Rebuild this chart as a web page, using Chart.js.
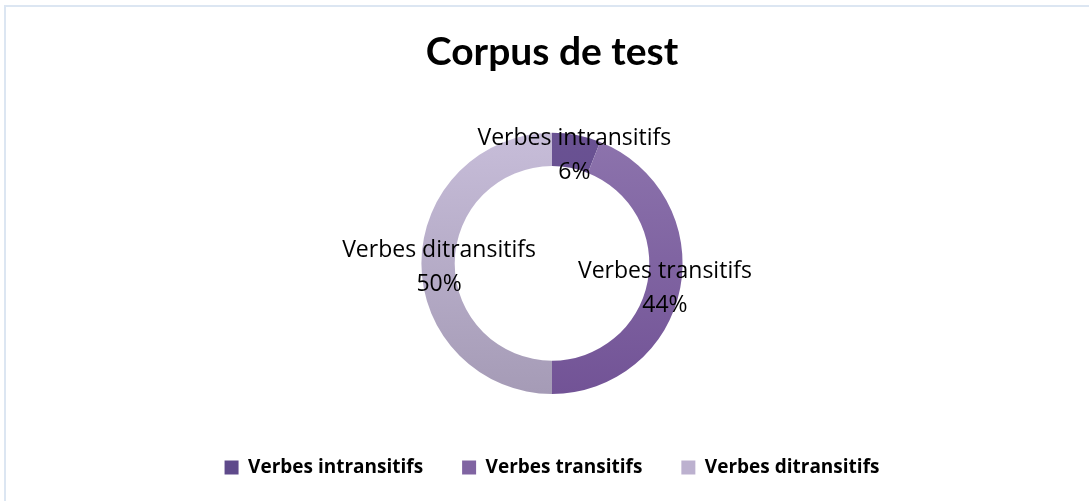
<!DOCTYPE html>
<html><head><meta charset="utf-8">
<script src="https://cdn.jsdelivr.net/npm/chart.js@4/dist/chart.umd.min.js"></script>
<style>
html,body{margin:0;padding:0;background:#fff;}
#wrap{position:absolute;left:0;top:0;width:1089px;height:501px;overflow:hidden;}
#frame{position:absolute;left:4px;top:5px;width:1100px;height:520px;border-top:2px solid #dce6f2;border-left:2px solid #dce6f2;}
canvas{position:absolute;left:0;top:0;}
</style></head><body>
<div id="wrap"><div id="frame"></div><canvas id="c" width="1089" height="501"></canvas></div>
<script>
const titleText = "Corpus de test";
const categories = ["Verbes intransitifs", "Verbes transitifs", "Verbes ditransitifs"];
const values = [6, 44, 50];
const pctLabels = ["6%", "44%", "50%"];
const flatColors = ["#5f4a8b", "#8064a2", "#bcb1cf"];
const gradTop = ["#6a5293", "#8d74ad", "#c7bdd9"];
const gradBottom = ["#5c4786", "#725396", "#a59bb6"];

function grad(ctx){
  const chart = ctx.chart; const a = chart.chartArea;
  if(!a) return flatColors[ctx.dataIndex];
  const g = chart.ctx.createLinearGradient(0, a.top, 0, a.bottom);
  g.addColorStop(0, gradTop[ctx.dataIndex]);
  g.addColorStop(1, gradBottom[ctx.dataIndex]);
  return g;
}

const labelPlugin = {
  id: 'arcLabels',
  afterDatasetsDraw(chart){
    const ctx = chart.ctx;
    const meta = chart.getDatasetMeta(0);
    ctx.save();
    ctx.font = '23px "Open Sans"';
    ctx.fillStyle = '#000';
    ctx.textAlign = 'center';
    ctx.textBaseline = 'middle';
    meta.data.forEach((arc, i) => {
      const p = arc.tooltipPosition();
      ctx.fillText(categories[i], p.x + 1, p.y - 13);
      ctx.fillText(pctLabels[i], p.x + 1, p.y + 21);
    });
    ctx.restore();
  }
};

new Chart(document.getElementById('c'), {
  type: 'doughnut',
  data: {
    labels: categories,
    datasets: [{ data: values, backgroundColor: grad, borderWidth: 0, hoverOffset: 0 }]
  },
  options: {
    responsive: false,
    animation: false,
    cutout: '74.5%',
    layout: { padding: { left: 15, right: 0, top: 0, bottom: 14 } },
    plugins: {
      tooltip: { enabled: false },
      title: { display: true, text: titleText, color: '#000',
        font: { family: 'Lato', size: 39, weight: 'bold' },
        padding: { top: 29, bottom: 57 } },
      legend: { position: 'bottom',
        title: { display: true, text: ' ', font: { size: 10 }, padding: { top: 6.5, bottom: 6.5 } },
        labels: { color: '#000', boxWidth: 14, boxHeight: 14, padding: 39,
          font: { family: 'Open Sans', size: 19, weight: 'bold' },
          generateLabels(chart){
            return categories.map((c, i) => ({ text: c, fillStyle: flatColors[i], strokeStyle: flatColors[i], fontColor: '#000', lineWidth: 0, hidden: false, index: i }));
          } } }
    }
  },
  plugins: [labelPlugin]
});
</script>
</body></html>
